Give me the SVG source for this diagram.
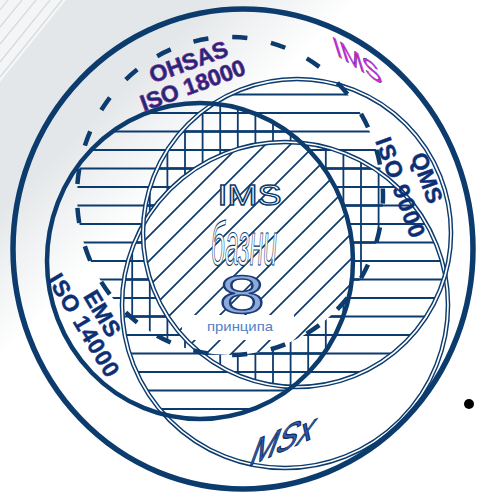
<svg xmlns="http://www.w3.org/2000/svg" xmlns:xlink="http://www.w3.org/1999/xlink" width="477" height="494" viewBox="0 0 477 494">
<style>
  text { font-family: "Liberation Sans", Arial, sans-serif; }
  .thick { fill: none; stroke: #0c3b6e; }
  .dbl-o { fill: none; stroke: #0c3b6e; stroke-width: 4.6; }
  .dbl-i { fill: none; stroke: #ffffff; stroke-width: 1.7; }
  .hatch { fill: none; stroke: #0c3b6e; }
  .std { font-size: 23px; font-weight: bold; fill: #0b2f6b; stroke: #1a3a9a; stroke-width: 0.5; }
  .ohs { fill: #1b2a70; stroke: #7a2a9a; stroke-width: 0.7; }
  .outl { fill: #ffffff; stroke: #0c3b6e; }
</style>
<defs>
  <linearGradient id="bg" gradientUnits="userSpaceOnUse" x1="105" y1="105" x2="180" y2="180">
    <stop offset="0" stop-color="#e4e7e9"/>
    <stop offset="1" stop-color="#ffffff"/>
  </linearGradient>
  <clipPath id="cD"><ellipse cx="230" cy="196" rx="153" ry="159"/></clipPath>
  <clipPath id="cE"><ellipse cx="200" cy="261" rx="153" ry="158"/></clipPath>
  <clipPath id="cQ"><circle cx="297" cy="233" r="154"/></clipPath>
  <clipPath id="cM"><circle cx="285" cy="305" r="163"/></clipPath>
  <path id="hl" class="hatch" stroke-width="2" d="M40 57.5H460M40 76H460M40 94.5H460M40 113H460M40 131.5H460M40 150H460M40 168.5H460M40 187H460M40 205.5H460M40 224H460M40 242.5H460M40 261H460M40 279.5H460M40 298H460M40 316.5H460M40 335H460M40 353.5H460M40 372H460M40 390.5H460M40 409H460M40 427.5H460M40 446H460"/>
  <path id="vl" class="hatch" stroke-width="1.8" d="M114.6 40V470M132.2 40V470M149.8 40V470M167.4 40V470M185 40V470M202.6 40V470M220.2 40V470M237.8 40V470M255.4 40V470M273 40V470M290.6 40V470M308.2 40V470M325.8 40V470M343.4 40V470M361 40V470M378.6 40V470M396.2 40V470M413.8 40V470"/>
  <path id="dl" class="hatch" stroke-width="1.7" d="M-135 420L185 100M-110 420L210 100M-85 420L235 100M-60 420L260 100M-35 420L285 100M-10 420L310 100M15 420L335 100M40 420L360 100M65 420L385 100M90 420L410 100M115 420L435 100M140 420L460 100M165 420L485 100M190 420L510 100M215 420L535 100M240 420L560 100M265 420L585 100M290 420L610 100"/>
</defs>

<g id="background">
  <rect width="477" height="494" fill="#ffffff"/>
  <rect width="477" height="494" fill="url(#bg)"/>
  <polygon points="0,0 66,0 0,82" fill="#f4f5f6"/>
  <path d="M8 0L0 10M22 0L0 27M36 0L0 44M50 0L0 62M62 0L0 77" stroke="#d6d9dc" stroke-width="1.2" fill="none"/>
</g>

<g id="hatching">
  <g clip-path="url(#cD)"><g clip-path="url(#cE)"><use xlink:href="#hl"/></g></g>
  <g clip-path="url(#cD)"><g clip-path="url(#cQ)"><use xlink:href="#hl"/></g></g>
  <g clip-path="url(#cD)"><g clip-path="url(#cM)"><use xlink:href="#hl"/></g></g>
  <g clip-path="url(#cE)"><g clip-path="url(#cQ)"><use xlink:href="#hl"/></g></g>
  <g clip-path="url(#cE)"><g clip-path="url(#cM)"><use xlink:href="#hl"/></g></g>
  <g clip-path="url(#cQ)"><g clip-path="url(#cM)"><use xlink:href="#hl"/></g></g>
  <g clip-path="url(#cD)"><g clip-path="url(#cE)"><g clip-path="url(#cQ)"><use xlink:href="#vl"/></g></g></g>
  <g clip-path="url(#cD)"><g clip-path="url(#cE)"><g clip-path="url(#cM)"><use xlink:href="#vl"/></g></g></g>
  <g clip-path="url(#cD)"><g clip-path="url(#cQ)"><g clip-path="url(#cM)"><use xlink:href="#vl"/></g></g></g>
  <g clip-path="url(#cE)"><g clip-path="url(#cQ)"><g clip-path="url(#cM)"><use xlink:href="#vl"/></g></g></g>
  <g clip-path="url(#cD)"><g clip-path="url(#cE)"><g clip-path="url(#cQ)"><g clip-path="url(#cM)">
    <rect x="100" y="100" width="300" height="300" fill="#ffffff"/>
    <use xlink:href="#dl"/>
  </g></g></g></g>
  <rect x="182" y="315" width="112" height="25" fill="#ffffff"/>
</g>

<g id="connectors"></g>

<g id="msx">
  <circle class="dbl-o" cx="285" cy="305" r="163"/>
  <circle class="dbl-i" cx="285" cy="305" r="163"/>
  <text transform="matrix(0.92 -0.4 -0.35 0.94 284 439)" x="0" y="15" text-anchor="middle" font-size="43" textLength="68" lengthAdjust="spacingAndGlyphs" fill="#2e5aa8" stroke="#0a2a5e" stroke-width="1.2">MSx</text>
</g>

<g id="qms">
  <circle class="dbl-o" cx="297" cy="233" r="154"/>
  <circle class="dbl-i" cx="297" cy="233" r="154"/>
  <text class="std" x="419.5" y="180.5" text-anchor="middle" transform="rotate(70 419.5 180.5)">QMS</text>
  <text class="std" x="393" y="190" text-anchor="middle" textLength="105" transform="rotate(70 393 190)">ISO 9000</text>
</g>

<g id="ems">
  <ellipse class="thick" stroke-width="4.5" cx="200" cy="261" rx="153" ry="158"/>
  <text class="std" x="95.5" y="317.5" text-anchor="middle" transform="rotate(59 95.5 317.5)">EMS</text>
  <text class="std" x="76.9" y="329.3" text-anchor="middle" textLength="116" transform="rotate(59 76.9 329.3)">ISO 14000</text>
</g>

<g id="ohsas">
  <ellipse class="thick" stroke-width="4.5" cx="230" cy="196" rx="153" ry="159" pathLength="1000" stroke-dasharray="15.5 24.5" stroke-dashoffset="7.7"/>
  <text class="std ohs" x="191.3" y="69.3" text-anchor="middle" transform="rotate(-20 191.3 69.3)">OHSAS</text>
  <text class="std ohs" x="195.3" y="92.8" text-anchor="middle" transform="rotate(-20 195.3 92.8)">ISO 18000</text>
</g>

<g id="ims">
  <ellipse class="thick" stroke-width="5.5" cx="243" cy="249" rx="230" ry="240"/>
  <text transform="matrix(0.84 0.545 0.3 0.95 357 60)" x="0" y="11" text-anchor="middle" font-size="30" textLength="56" lengthAdjust="spacingAndGlyphs" fill="#ee22ee" stroke="#3a1f6e" stroke-width="0.6">IMS</text>
</g>

<g id="center">
  <text class="outl" x="249.5" y="204.5" text-anchor="middle" font-size="29" stroke-width="1.3" textLength="64" lengthAdjust="spacingAndGlyphs">IMS</text>
  <text class="outl" x="244" y="265" text-anchor="middle" font-size="62" font-style="italic" stroke-width="1.2" textLength="66" lengthAdjust="spacingAndGlyphs">базни</text>
  <text x="242" y="312.5" text-anchor="middle" font-size="54" textLength="46" lengthAdjust="spacingAndGlyphs" fill="#8eaadb" stroke="#1c3c78" stroke-width="1.6">8</text>
  <text x="240" y="331" text-anchor="middle" font-size="13" textLength="66" lengthAdjust="spacingAndGlyphs" fill="#5080c8">принципа</text>
</g>

<g id="bullet">
  <circle cx="469" cy="404" r="5" fill="#000000"/>
</g>
</svg>
